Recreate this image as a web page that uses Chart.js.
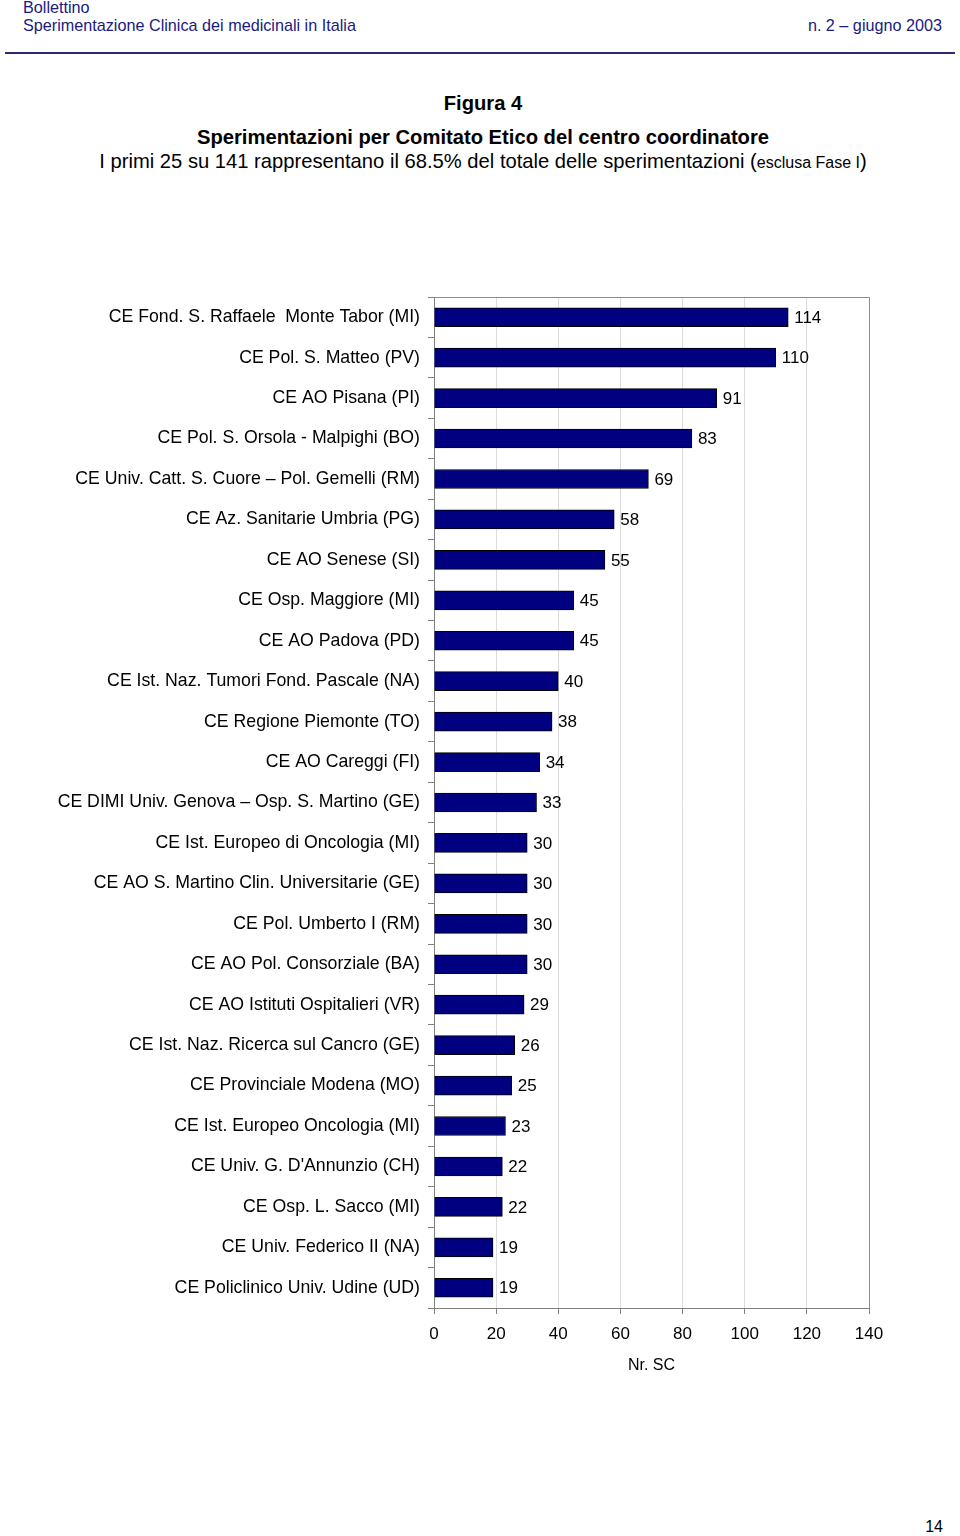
<!DOCTYPE html>
<html lang="it">
  <head>
    <meta charset="UTF-8" />
    <title>Figura 4 - Sperimentazioni per Comitato Etico</title>
    <script src="https://cdn.jsdelivr.net/npm/chart.js"></script>
    <style>
      body { margin: 0; background: #fff; font-family: "Liberation Sans", Arial, sans-serif; }
      .page { position: relative; width: 960px; height: 1536px; overflow: hidden; }
      .hdr { position: absolute; color: #1a1a80; font-size: 16.2px; line-height: 18px; white-space: nowrap; }
      .rule { position: absolute; left: 5px; top: 52px; width: 950px; height: 2px; background: #2a2a70; }
      .ttl { position: absolute; left: 0; width: 966px; text-align: center; color: #000; font-size: 20.2px; line-height: 22px; white-space: nowrap; }
      #chartBox { position: absolute; left: 0; top: 0; }
    </style>
  </head>
  <body>
    <div class="page">
      <div class="hdr" style="left:23px; top:-2px">Bollettino</div>
      <div class="hdr" style="left:23px; top:16px">Sperimentazione Clinica dei medicinali in Italia</div>
      <div class="hdr" style="right:18px; top:16px">n. 2 – giugno 2003</div>
      <div class="rule"></div>
      <div class="ttl" style="top:92px; font-weight:bold">Figura 4</div>
      <div class="ttl" style="top:126px; font-weight:bold">Sperimentazioni per Comitato Etico del centro coordinatore</div>
      <div class="ttl" style="top:150px">I primi 25 su 141 rappresentano il 68.5% del totale delle sperimentazioni (<span style="font-size:16px">esclusa Fase I</span>)</div>
      <div class="hdr" style="right:17px; top:1518px; color:#000; font-size:16px">14</div>
      <div id="chartBox"><canvas id="ceChart" width="960" height="1400"></canvas></div>
    </div>

    <script>
      const comitati = [
        "CE Fond. S. Raffaele  Monte Tabor (MI)",
        "CE Pol. S. Matteo (PV)",
        "CE AO Pisana (PI)",
        "CE Pol. S. Orsola - Malpighi (BO)",
        "CE Univ. Catt. S. Cuore – Pol. Gemelli (RM)",
        "CE Az. Sanitarie Umbria (PG)",
        "CE AO Senese (SI)",
        "CE Osp. Maggiore (MI)",
        "CE AO Padova (PD)",
        "CE Ist. Naz. Tumori Fond. Pascale (NA)",
        "CE Regione Piemonte (TO)",
        "CE AO Careggi (FI)",
        "CE DIMI Univ. Genova – Osp. S. Martino (GE)",
        "CE Ist. Europeo di Oncologia (MI)",
        "CE AO S. Martino Clin. Universitarie (GE)",
        "CE Pol. Umberto I (RM)",
        "CE AO Pol. Consorziale (BA)",
        "CE AO Istituti Ospitalieri (VR)",
        "CE Ist. Naz. Ricerca sul Cancro (GE)",
        "CE Provinciale Modena (MO)",
        "CE Ist. Europeo Oncologia (MI)",
        "CE Univ. G. D'Annunzio (CH)",
        "CE Osp. L. Sacco (MI)",
        "CE Univ. Federico II (NA)",
        "CE Policlinico Univ. Udine (UD)",
      ];
      const sperimentazioni = [
        114, 110, 91, 83, 69, 58, 55, 45, 45, 40, 38, 34, 33, 30, 30, 30, 30,
        29, 26, 25, 23, 22, 22, 19, 19,
      ];
      const asseX = { min: 0, max: 140, step: 20 };

      const fontBase = "'Liberation Sans', Arial, sans-serif";

      // etichette con i valori a destra delle barre
      const valueLabels = {
        id: "valueLabels",
        afterDatasetsDraw(chart) {
          const ctx = chart.ctx;
          const meta = chart.getDatasetMeta(0);
          ctx.save();
          ctx.font = "17px " + fontBase;
          ctx.fillStyle = "#000";
          ctx.textAlign = "left";
          ctx.textBaseline = "middle";
          meta.data.forEach((bar, i) => {
            ctx.fillText(String(sperimentazioni[i]), bar.x + 6, bar.y + 1);
          });
          ctx.restore();
        },
      };

      // cornice grigia dell'area del grafico
      const plotFrame = {
        id: "plotFrame",
        beforeDatasetsDraw(chart) {
          const a = chart.chartArea;
          const ctx = chart.ctx;
          ctx.save();
          ctx.strokeStyle = "#8c8c8c";
          ctx.lineWidth = 1;
          ctx.beginPath();
          ctx.moveTo(a.left, a.top + 0.5);
          ctx.lineTo(a.right + 0.5, a.top + 0.5);
          ctx.lineTo(a.right + 0.5, a.bottom);
          ctx.stroke();
          ctx.restore();
        },
      };

      const ceConfig = {
        type: "bar",
        data: {
          labels: comitati,
          datasets: [
            {
              label: "Nr. SC",
              data: sperimentazioni,
              backgroundColor: "#000080",
              borderColor: "#000000",
              borderWidth: 1,
              barThickness: 19,
            },
          ],
        },
        options: {
          indexAxis: "y",
          responsive: false,
          animation: false,
          layout: { padding: { top: 297, right: 91, bottom: 22, left: 0 } },
          plugins: {
            legend: { display: false },
            tooltip: { enabled: false },
          },
          scales: {
            x: {
              min: asseX.min,
              max: asseX.max,
              afterFit: (scale) => { scale.height = 70; },
              ticks: {
                stepSize: asseX.step,
                color: "#000",
                padding: 10,
                font: { family: fontBase, size: 17 },
              },
              grid: {
                color: "#dcdcdc",
                tickColor: "#7f7f7f",
                tickLength: 6,
              },
              border: { color: "#7f7f7f" },
              title: {
                display: true,
                text: "Nr. SC",
                color: "#000",
                padding: { top: 0, bottom: 3 },
                font: { family: fontBase, size: 16 },
              },
            },
            y: {
              afterFit: (scale) => { scale.width = 434; },
              ticks: {
                color: "#000",
                padding: 8,
                autoSkip: false,
                font: { family: fontBase, size: 17.7 },
              },
              grid: {
                drawOnChartArea: false,
                tickColor: "#7f7f7f",
                tickLength: 6,
                offset: true,
              },
              border: { color: "#7f7f7f" },
            },
          },
        },
        plugins: [plotFrame, valueLabels],
      };

      new Chart(document.getElementById("ceChart"), ceConfig);
    </script>
  </body>
</html>
